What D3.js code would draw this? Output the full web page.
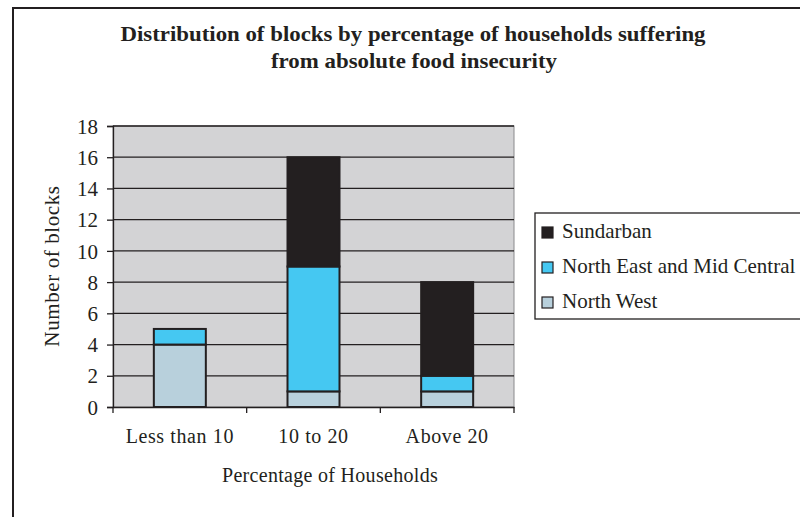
<!DOCTYPE html>
<html>
<head>
<meta charset="utf-8">
<script src="https://cdn.jsdelivr.net/npm/d3@7"></script>
<style>
  body { margin: 0; background: #fff; }
  text { font-family: "Liberation Serif", "Times New Roman", serif; fill: #231f20; }
</style>
</head>
<body>
<div id="chart"></div>
<script>
// data
var categories = ["Less than 10", "10 to 20", "Above 20"];
var seriesNames = ["North West", "North East and Mid Central", "Sundarban"];
var northWest = [4, 1, 1];
var northEastMidCentral = [1, 8, 1];
var sundarban = [0, 7, 6];
var yTicks = [0, 2, 4, 6, 8, 10, 12, 14, 16, 18];
var legendOrder = ["Sundarban", "North East and Mid Central", "North West"];

var colors = {
  "North West": "#b8d0dc",
  "North East and Mid Central": "#45c8f2",
  "Sundarban": "#231f20"
};

var W = 800, H = 517;
var svg = d3.select("#chart").append("svg").attr("width", W).attr("height", H);

// outer frame
svg.append("rect").attr("x", 13).attr("y", 8).attr("width", W + 10).attr("height", H + 10)
  .attr("fill", "#fff").attr("stroke", "#231f20").attr("stroke-width", 2);

// title
svg.append("text").attr("x", 413).attr("y", 41).attr("text-anchor", "middle")
  .attr("font-weight", "bold").attr("font-size", 22)
  .attr("textLength", 585).attr("lengthAdjust", "spacingAndGlyphs")
  .text("Distribution of blocks by percentage of households suffering");
svg.append("text").attr("x", 414).attr("y", 68).attr("text-anchor", "middle")
  .attr("font-weight", "bold").attr("font-size", 22)
  .attr("textLength", 286).attr("lengthAdjust", "spacingAndGlyphs")
  .text("from absolute food insecurity");

var margin = {left: 113, top: 126, right: 514, bottom: 407};

var x = d3.scaleBand().domain(categories).range([margin.left, margin.right]).paddingInner(0).paddingOuter(0);
var y = d3.scaleLinear().domain([0, 18]).range([margin.bottom, margin.top]);

// plot background
svg.append("rect").attr("x", margin.left).attr("y", margin.top)
  .attr("width", margin.right - margin.left).attr("height", margin.bottom - margin.top)
  .attr("fill", "#d3d3d5").attr("stroke", "#8a8a8c").attr("stroke-width", 1);

// gridlines
svg.append("g").selectAll("line").data(yTicks.filter(function(d) { return d > 0; }))
  .enter().append("line")
  .attr("x1", margin.left).attr("x2", margin.right)
  .attr("y1", function(d) { return y(d); }).attr("y2", function(d) { return y(d); })
  .attr("stroke", "#231f20").attr("stroke-width", 1.3);

// stacked bars
var rows = categories.map(function(c, i) {
  return {cat: c, "North West": northWest[i], "North East and Mid Central": northEastMidCentral[i], "Sundarban": sundarban[i]};
});
var stack = d3.stack().keys(seriesNames)(rows);
var barW = 52;

svg.append("g").selectAll("g").data(stack).enter().append("g")
  .attr("fill", function(d) { return colors[d.key]; })
  .selectAll("rect").data(function(d) { return d.filter(function(p) { return p[1] > p[0]; }); })
  .enter().append("rect")
  .attr("x", function(d) { return x(d.data.cat) + x.bandwidth() / 2 - barW / 2; })
  .attr("y", function(d) { return y(d[1]); })
  .attr("width", barW)
  .attr("height", function(d) { return y(d[0]) - y(d[1]); })
  .attr("stroke", "#231f20").attr("stroke-width", 2);

// y axis
var yAxis = svg.append("g").attr("transform", "translate(" + margin.left + ",0)")
  .call(d3.axisLeft(y).tickValues(yTicks).tickSize(6).tickPadding(9));
yAxis.select(".domain").attr("stroke", "#231f20").attr("stroke-width", 1.3);
yAxis.selectAll(".tick line").attr("stroke", "#231f20").attr("stroke-width", 1.3);
yAxis.selectAll(".tick text").attr("font-family", "Liberation Serif, serif").attr("font-size", 21)
  .attr("dy", "0.34em").attr("fill", "#231f20");

// x axis
var xAxis = svg.append("g").attr("transform", "translate(0," + margin.bottom + ")")
  .call(d3.axisBottom(x).tickSize(0).tickPadding(22));
xAxis.select(".domain").attr("stroke", "#231f20").attr("stroke-width", 1.3);
xAxis.selectAll(".tick text").attr("font-family", "Liberation Serif, serif").attr("font-size", 20)
  .attr("letter-spacing", 0.6).attr("fill", "#231f20");
// tick marks at the band edges
var edges = categories.map(function(c) { return x(c); }).concat([margin.right]);
svg.append("g").selectAll("line").data(edges).enter().append("line")
  .attr("x1", function(d) { return d; }).attr("x2", function(d) { return d; })
  .attr("y1", margin.bottom).attr("y2", margin.bottom + 6)
  .attr("stroke", "#231f20").attr("stroke-width", 1.3);

// axis titles
svg.append("text").attr("transform", "translate(59,266) rotate(-90)")
  .attr("text-anchor", "middle").attr("font-size", 21).attr("letter-spacing", 0.6)
  .text("Number of blocks");
svg.append("text").attr("x", 330).attr("y", 482)
  .attr("text-anchor", "middle").attr("font-size", 20).attr("letter-spacing", 0.3)
  .text("Percentage of Households");

// legend
var legend = svg.append("g");
legend.append("rect").attr("x", 535).attr("y", 213).attr("width", 300).attr("height", 106)
  .attr("fill", "#fff").attr("stroke", "#231f20").attr("stroke-width", 1.3);
var items = legend.selectAll("g.item").data(legendOrder).enter().append("g")
  .attr("transform", function(d, i) { return "translate(542," + (232 + i * 35) + ")"; });
items.append("rect").attr("x", 0).attr("y", -5).attr("width", 11).attr("height", 11)
  .attr("fill", function(d) { return colors[d]; })
  .attr("stroke", "#231f20").attr("stroke-width", 1.2);
items.append("text").attr("x", 20).attr("y", 6).attr("font-size", 21)
  .text(function(d) { return d; });
</script>
</body>
</html>
